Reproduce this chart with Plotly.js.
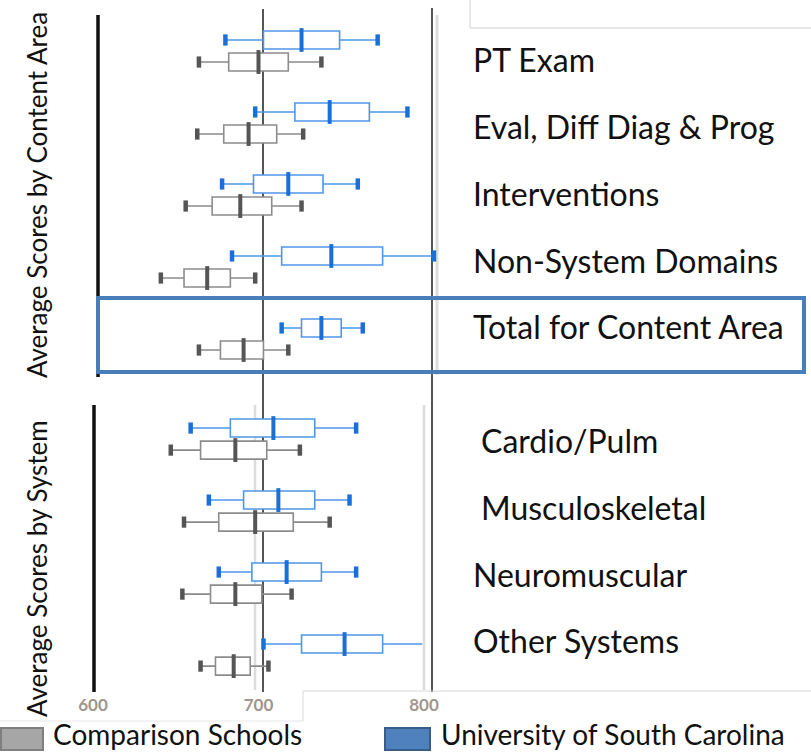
<!DOCTYPE html>
<html>
<head>
<meta charset="utf-8">
<script src="https://cdn.plot.ly/plotly-3.0.1.min.js"></script>
<style>html,body{margin:0;padding:0;background:#fff;}#chart{width:811px;height:753px;}</style>
</head>
<body>
<div id="chart"></div>
<script>
// ---- data ----
const categories = ["PT Exam", "Eval, Diff Diag & Prog", "Interventions", "Non-System Domains",
  "Total for Content Area", "Cardio/Pulm", "Musculoskeletal", "Neuromuscular", "Other Systems"];
const groupNames = ["Average Scores by Content Area", "Average Scores by System"];
const seriesNames = ["Comparison Schools", "University of South Carolina"];
const tickValues = [600, 700, 800];

const uscLower  = [680, 698, 678, 684, 714, 659, 670, 676, 703];
const uscQ1     = [703, 722, 697, 714, 726, 683, 691, 696, 726];
const uscMedian = [726, 743, 718, 744, 738, 709, 712, 717, 752];
const uscQ3     = [749, 767, 739, 775, 750, 734, 734, 738, 775];
const uscUpper  = [772, 790, 760, 806, 763, 759, 755, 759, 799];

const cmpLower  = [664, 663, 656, 641, 664, 647, 655, 654, 665];
const cmpQ1     = [682, 679, 672, 655, 677, 665, 676, 671, 674];
const cmpMedian = [700, 694, 689, 669, 691, 686, 698, 686, 685];
const cmpQ3     = [718, 711, 708, 683, 703, 705, 721, 702, 695];
const cmpUpper  = [738, 727, 726, 698, 718, 725, 743, 720, 706];

// ---- layout helpers ----
const W = 811, H = 753, PLOT_H = 693;
const FONT = "Lato, 'Open Sans', sans-serif";
const px = x => x / W;
const py = y => 1 - y / PLOT_H;
const rowPos = categories.map((c, i) => i + (i >= 5 ? 0.39 : 0));
const OFF = 0.153, BOXW = 0.25;
const uscPos = rowPos.map(p => p - OFF);
const cmpPos = rowPos.map(p => p + OFF);

const BLUE_LINE = "#4d97e8", BLUE_DARK = "#1a6fd8";
const GREY_LINE = "#8c8c8c", GREY_DARK = "#555555";

function boxTrace(pos, lo, q1, med, q3, hi, lineColor, name) {
  return {
    type: "box", orientation: "h", name: name, showlegend: false,
    y: pos, lowerfence: lo, q1: q1, median: med, q3: q3, upperfence: hi,
    width: BOXW, fillcolor: "#ffffff", line: {color: lineColor, width: 1.6},
    whiskerwidth: 0, boxpoints: false, hoverinfo: "skip"
  };
}
function markTrace(xs, pos, color, size, lw) {
  return {
    type: "scatter", mode: "markers", showlegend: false, hoverinfo: "skip",
    x: xs, y: pos,
    marker: {symbol: "line-ns", size: size, color: color, line: {color: color, width: lw}}
  };
}

const traces = [
  boxTrace(cmpPos, cmpLower, cmpQ1, cmpMedian, cmpQ3, cmpUpper, GREY_LINE, seriesNames[0]),
  boxTrace(uscPos, uscLower, uscQ1, uscMedian, uscQ3, uscUpper, BLUE_LINE, seriesNames[1]),
  markTrace(cmpMedian, cmpPos, GREY_DARK, 17, 4),
  markTrace(uscMedian, uscPos, BLUE_DARK, 17, 4),
  markTrace(cmpLower.concat(cmpUpper), cmpPos.concat(cmpPos), GREY_DARK, 8, 4.5),
  markTrace(uscLower.concat(uscUpper.slice(0, 8)), uscPos.concat(uscPos.slice(0, 8)), BLUE_DARK, 8, 4.5)
];

// decorative lines (paper pixel coords)
function vline(x, y0, y1, color, w) {
  return {type: "line", xref: "paper", yref: "paper", x0: px(x), x1: px(x), y0: py(y0), y1: py(y1),
    line: {color: color, width: w}, layer: "below"};
}
function hline(y, x0, x1, color, w) {
  return {type: "line", xref: "paper", yref: "paper", x0: px(x0), x1: px(x1), y0: py(y), y1: py(y),
    line: {color: color, width: w}, layer: "below"};
}
const shapes = [
  vline(437, 15, 375, "#dcdcdc", 3),
  vline(255, 405, 690, "#dcdcdc", 2.5),
  vline(424, 405, 690, "#dcdcdc", 2.5),
  vline(263, 9, 692, "#555555", 2),
  vline(432, 8, 692, "#555555", 2),
  vline(98, 15, 377, "#111111", 3.5),
  vline(94, 405, 692, "#111111", 3.5),
  vline(470, 0, 28, "#d0d0d0", 1),
  hline(28, 470, 811, "#d0d0d0", 1),
  vline(303, 691, 721, "#d9d9d9", 1),
  hline(691, 303, 811, "#d9d9d9", 1),
  hline(721, 0, 303, "#e6e6e6", 1),
  {type: "rect", xref: "paper", yref: "paper", x0: px(98), x1: px(804), y0: py(298), y1: py(372),
    line: {color: "#4a7ebb", width: 4}, fillcolor: "rgba(0,0,0,0)", layer: "above"},
  // legend swatches
  {type: "rect", xref: "paper", yref: "paper", x0: px(1), x1: px(43), y0: py(728), y1: py(750),
    line: {color: "#7f7f7f", width: 2}, fillcolor: "#a6a6a6"},
  {type: "rect", xref: "paper", yref: "paper", x0: px(385), x1: px(430), y0: py(728), y1: py(750),
    line: {color: "#385d8a", width: 2}, fillcolor: "#4f81bd"}
];

// text labels
const labelX = [471, 471, 471, 471, 471, 479, 479, 471, 471];
const labelY = [60, 127, 193, 260, 326, 440, 507, 574, 640];
const annotations = categories.map((c, i) => ({
  text: c, xref: "paper", yref: "paper", x: px(labelX[i]), y: py(labelY[i]),
  xanchor: "left", yanchor: "middle", showarrow: false,
  font: {family: FONT, size: 32, color: "#111111"}
}));
annotations.push(
  {text: groupNames[0], xref: "paper", yref: "paper", x: px(37), y: py(195), textangle: -90,
   xanchor: "center", yanchor: "middle", showarrow: false, font: {family: FONT, size: 26, color: "#111"}},
  {text: groupNames[1], xref: "paper", yref: "paper", x: px(37), y: py(569), textangle: -90,
   xanchor: "center", yanchor: "middle", showarrow: false, font: {family: FONT, size: 26, color: "#111"}},
  {text: seriesNames[0], xref: "paper", yref: "paper", x: px(52), y: py(734), borderpad: 0,
   xanchor: "left", yanchor: "middle", showarrow: false, font: {family: FONT, size: 28, color: "#111"}},
  {text: seriesNames[1], xref: "paper", yref: "paper", x: px(440), y: py(734), borderpad: 0,
   xanchor: "left", yanchor: "middle", showarrow: false, font: {family: FONT, size: 28, color: "#111"}}
);

const xPerPx = 1 / 1.655;
const layout = {
  width: W, height: H,
  margin: {l: 0, r: 0, t: 0, b: H - PLOT_H, pad: 0},
  paper_bgcolor: "#ffffff", plot_bgcolor: "rgba(0,0,0,0)",
  showlegend: false,
  boxmode: "overlay",
  xaxis: {
    range: [600 - 93 * xPerPx, 600 + (W - 93) * xPerPx],
    tickvals: tickValues, ticktext: tickValues.map(String),
    showgrid: false, zeroline: false, showline: false, ticks: "",
    tickfont: {family: FONT, size: 17, color: "#a0968c", weight: "bold"},
    fixedrange: true
  },
  yaxis: {
    range: [-51 / 72 + PLOT_H / 72, -51 / 72],
    showgrid: false, zeroline: false, showline: false, showticklabels: false, ticks: "",
    fixedrange: true
  },
  shapes: shapes,
  annotations: annotations
};

Plotly.newPlot("chart", traces, layout, {displayModeBar: false, staticPlot: true});
</script>
</body>
</html>
